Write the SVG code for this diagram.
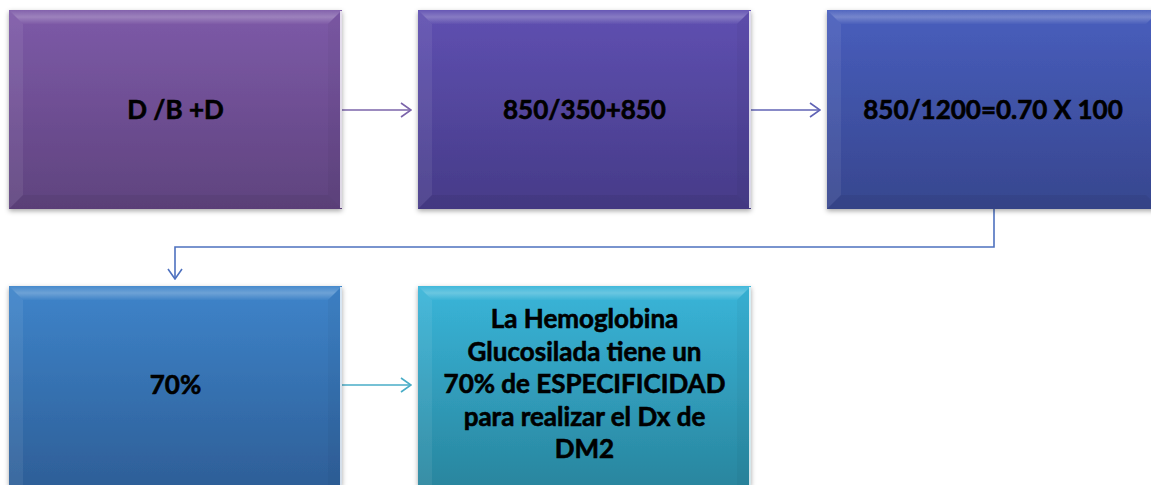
<svg xmlns="http://www.w3.org/2000/svg" width="1151" height="485" viewBox="0 0 1151 485">
<defs>
<linearGradient id="g1" x1="0" y1="0" x2="0" y2="1"><stop offset="0" stop-color="#7d5aa8"/><stop offset="1" stop-color="#5f437e"/></linearGradient>
<linearGradient id="g2" x1="0" y1="0" x2="0" y2="1"><stop offset="0" stop-color="#5f50b1"/><stop offset="1" stop-color="#463b88"/></linearGradient>
<linearGradient id="g3" x1="0" y1="0" x2="0" y2="1"><stop offset="0" stop-color="#485ebd"/><stop offset="1" stop-color="#37468e"/></linearGradient>
<linearGradient id="g4" x1="0" y1="0" x2="0" y2="1"><stop offset="0" stop-color="#3e84ca"/><stop offset="1" stop-color="#2e5f98"/></linearGradient>
<linearGradient id="g5" x1="0" y1="0" x2="0" y2="1"><stop offset="0" stop-color="#39b5d9"/><stop offset="1" stop-color="#29869f"/></linearGradient>
<linearGradient id="top" x1="0" y1="0" x2="0" y2="1"><stop offset="0" stop-color="#fff" stop-opacity="0.05"/><stop offset="0.5" stop-color="#fff" stop-opacity="0.25"/><stop offset="1" stop-color="#fff" stop-opacity="0.02"/></linearGradient>
<filter id="sh" x="-5%" y="-5%" width="110%" height="115%"><feDropShadow dx="0" dy="2" stdDeviation="2.5" flood-color="#000" flood-opacity="0.35"/></filter>
<marker id="ah" viewBox="0 0 12 16" refX="11" refY="8" markerWidth="12" markerHeight="16" markerUnits="userSpaceOnUse" orient="auto"><path d="M1,1 L11,8 L1,15" fill="none" stroke="context-stroke" stroke-width="1.6"/></marker>
</defs>
<style>
.t{font-family:Lato,"Liberation Sans",sans-serif;font-weight:bold;font-size:26px;fill:#000;stroke:#000;stroke-width:0.6;text-anchor:middle}
.bt{fill:url(#top)}
.bl{fill:#fff;opacity:0.07}
.bb{fill:#000;opacity:0.05}
.br{fill:#000;opacity:0.03}
.edge{fill:#fff;opacity:0.8}
.c{fill:none;stroke-width:1.6}
</style>
<rect width="1151" height="485" fill="#fff"/>
<g id="connectors">
<line class="c" x1="342" y1="110" x2="411" y2="110" stroke="#7b64aa" marker-end="url(#ah)"/>
<line class="c" x1="751" y1="110" x2="820" y2="110" stroke="#6063b5" marker-end="url(#ah)"/>
<polyline class="c" points="994,209 994,247 175,247 175,279" stroke="#4e71bf" marker-end="url(#ah)"/>
<line class="c" x1="342" y1="385" x2="411" y2="385" stroke="#48adc7" marker-end="url(#ah)"/>
</g>
<g id="n1">
<rect x="9" y="10" width="333" height="199" fill="url(#g1)" filter="url(#sh)"/>
<polygon class="bt" points="9,10 342,10 328,24 23,24"/>
<polygon class="bl" points="9,10 23,24 23,195 9,209"/>
<polygon class="bb" points="9,209 23,195 328,195 342,209"/>
<polygon class="br" points="342,10 328,24 328,195 342,209"/>
<rect class="edge" x="340" y="11" width="2" height="197"/>
<text class="t" x="175.5" y="119">D /B +D</text>
</g>
<g id="n2">
<rect x="418" y="10" width="333" height="199" fill="url(#g2)" filter="url(#sh)"/>
<polygon class="bt" points="418,10 751,10 737,24 432,24"/>
<polygon class="bl" points="418,10 432,24 432,195 418,209"/>
<polygon class="bb" points="418,209 432,195 737,195 751,209"/>
<polygon class="br" points="751,10 737,24 737,195 751,209"/>
<rect class="edge" x="749" y="11" width="2" height="197"/>
<text class="t" x="584.5" y="119">850/350+850</text>
</g>
<g id="n3">
<rect x="827" y="10" width="333" height="199" fill="url(#g3)" filter="url(#sh)"/>
<polygon class="bt" points="827,10 1160,10 1146,24 841,24"/>
<polygon class="bl" points="827,10 841,24 841,195 827,209"/>
<polygon class="bb" points="827,209 841,195 1146,195 1160,209"/>
<text class="t" x="993" y="119">850/1200=0.70 X 100</text>
</g>
<g id="n4">
<rect x="9" y="286" width="333" height="199" fill="url(#g4)" filter="url(#sh)"/>
<polygon class="bt" points="9,286 342,286 328,300 23,300"/>
<polygon class="bl" points="9,286 23,300 23,485 9,485"/>
<polygon class="br" points="342,286 328,300 328,485 342,485"/>
<rect class="edge" x="340" y="287" width="2" height="198"/>
<text class="t" x="175.5" y="394">70%</text>
</g>
<g id="n5">
<rect x="418" y="286" width="333" height="199" fill="url(#g5)" filter="url(#sh)"/>
<polygon class="bt" points="418,286 751,286 737,300 432,300"/>
<polygon class="bl" points="418,286 432,300 432,485 418,485"/>
<polygon class="br" points="751,286 737,300 737,485 751,485"/>
<rect class="edge" x="749" y="287" width="2" height="198"/>
<text class="t" x="584.5" y="328">La Hemoglobina</text>
<text class="t" x="584.5" y="361">Glucosilada tiene un</text>
<text class="t" x="584.5" y="393">70% de ESPECIFICIDAD</text>
<text class="t" x="584.5" y="426">para realizar el Dx de</text>
<text class="t" x="584.5" y="458">DM2</text>
</g>
</svg>
